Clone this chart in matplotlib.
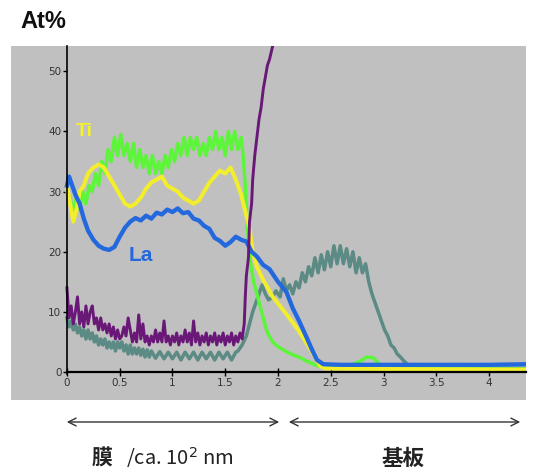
import matplotlib
matplotlib.use("Agg")
import matplotlib.pyplot as plt

# ---------------- data ----------------
green_x = [0.00, 0.03, 0.06, 0.09, 0.12, 0.15, 0.18, 0.21, 0.24, 0.27, 0.30, 0.33, 0.36, 0.39,
           0.42, 0.45, 0.48, 0.51, 0.54, 0.57, 0.60, 0.63, 0.66, 0.69, 0.72, 0.75, 0.78, 0.81,
           0.84, 0.87, 0.90, 0.93, 0.96, 0.99, 1.02, 1.05, 1.08, 1.11, 1.14, 1.17, 1.20, 1.23,
           1.26, 1.29, 1.32, 1.35, 1.38, 1.41, 1.44, 1.47, 1.50, 1.53, 1.56, 1.59, 1.62, 1.65,
           1.67, 1.69, 1.71, 1.74, 1.77, 1.80, 1.83, 1.86, 1.90, 1.95, 2.00, 2.05, 2.10, 2.15,
           2.20, 2.25, 2.30, 2.35, 2.40, 2.50, 2.60, 2.70, 2.78, 2.84, 2.90, 2.95, 3.00, 3.20, 4.35]
green_y = [30, 29, 26, 29, 27, 30, 28, 31, 30, 33, 31, 35, 33, 37,
           35, 39, 36, 39.5, 36, 38, 35, 38, 34, 37, 34, 36, 33, 36,
           33, 35, 33, 36, 34, 37, 35, 38, 36, 39, 36, 39, 37, 39,
           36, 38, 36, 39, 37, 40, 37, 39, 36, 40, 37, 40, 37, 39,
           36, 31, 24, 18, 15, 13, 11, 9, 6.5, 5, 4.2, 3.7, 3.2, 2.8,
           2.5, 2.0, 1.6, 1.2, 0.9, 0.8, 0.9, 1.2, 1.8, 2.5, 2.4, 1.5, 0.8, 0.6, 0.5]

yellow_x = [0.00, 0.03, 0.06, 0.09, 0.12, 0.16, 0.20, 0.25, 0.30, 0.35, 0.40, 0.45, 0.50, 0.55,
            0.60, 0.65, 0.70, 0.75, 0.80, 0.85, 0.90, 0.95, 1.00, 1.05, 1.10, 1.15, 1.20, 1.25,
            1.30, 1.35, 1.40, 1.45, 1.50, 1.55, 1.60, 1.65, 1.70, 1.73, 1.76, 1.80, 1.86, 1.95,
            2.05, 2.15, 2.21, 2.30, 2.36, 2.40, 2.45, 3.00, 4.35]
yellow_y = [31, 28, 25, 27, 30, 31, 33, 34, 34.5, 34, 32.5, 31, 29.5, 28,
            27.5, 28, 29, 30.5, 31.5, 32, 32.5, 31, 30.5, 30, 29, 28.5, 28, 28.5,
            30, 31.5, 32.5, 33.5, 33, 34, 32, 29.5, 26, 24, 20, 17.5, 15.3, 12.5,
            10.3, 8, 6.5, 4, 2.3, 1.0, 0.6, 0.5, 0.4]

blue_x = [0.00, 0.02, 0.05, 0.08, 0.12, 0.16, 0.20, 0.25, 0.30, 0.35, 0.40, 0.45, 0.50, 0.55,
          0.60, 0.65, 0.70, 0.75, 0.80, 0.85, 0.90, 0.95, 1.00, 1.05, 1.10, 1.15, 1.20, 1.25,
          1.30, 1.35, 1.40, 1.45, 1.50, 1.55, 1.60, 1.65, 1.70, 1.75, 1.80, 1.86, 1.92, 2.00,
          2.08, 2.14, 2.20, 2.27, 2.32, 2.37, 2.43, 2.60, 3.00, 3.50, 4.00, 4.35]
blue_y = [31, 32.5, 31, 29.5, 28, 25.5, 23.5, 22, 21, 20.5, 20.3, 20.8, 22.5, 24,
          25, 25.6, 25.2, 26, 25.5, 26.5, 26.2, 27, 26.6, 27.2, 26.4, 26.6, 25.5, 25.2,
          24.3, 23.8, 22.3, 21.8, 21, 21.6, 22.5, 22, 21.7, 20, 19.2, 17.8, 17.1, 15,
          13.3, 10.6, 8.5, 5.8, 3.8, 2.0, 1.3, 1.2, 1.2, 1.2, 1.2, 1.3]

purple_x = [0.00, 0.02, 0.04, 0.06, 0.08, 0.10, 0.12, 0.14, 0.16, 0.18, 0.20, 0.22, 0.24, 0.26,
            0.28, 0.30, 0.32, 0.34, 0.36, 0.38, 0.40, 0.42, 0.44, 0.46, 0.48, 0.50, 0.52, 0.54,
            0.56, 0.58, 0.60, 0.62, 0.64, 0.66, 0.68, 0.70, 0.72, 0.74, 0.76, 0.78, 0.80, 0.82,
            0.84, 0.86, 0.88, 0.90, 0.92, 0.94, 0.96, 0.98, 1.00, 1.02, 1.04, 1.06, 1.08, 1.10,
            1.12, 1.14, 1.16, 1.18, 1.20, 1.22, 1.24, 1.26, 1.28, 1.30, 1.32, 1.34, 1.36, 1.38,
            1.40, 1.42, 1.44, 1.46, 1.48, 1.50, 1.52, 1.54, 1.56, 1.58, 1.60, 1.62, 1.64, 1.66,
            1.68, 1.69, 1.70, 1.72, 1.73, 1.75, 1.76, 1.78, 1.80, 1.82, 1.84, 1.86, 1.88, 1.90,
            1.92, 1.94, 1.96]
purple_y = [14, 9, 11, 8, 10, 12.5, 8, 10, 7.5, 11, 8, 10, 11, 8,
            9, 7, 9, 7, 8, 6.5, 8, 6, 7.5, 5.5, 7, 5.5, 6, 7.5,
            6, 9, 7, 5, 6.5, 5, 9.5, 5.5, 8, 5, 6, 4.5, 6, 5,
            7, 5, 6.5, 5, 8.5, 5, 6, 4.5, 6, 5, 6.5, 4.5, 6, 5,
            7, 5, 6.5, 4.5, 8.5, 5, 6.5, 4.5, 6, 5, 6.5, 4.5, 6, 5,
            6.5, 4.5, 6, 5, 6.5, 4.5, 6, 5, 6.5, 4.5, 6, 5, 6.5, 5.5,
            8, 12.5, 16, 19, 25, 28, 32, 36, 39, 42, 44, 47, 49, 51,
            52, 53.5, 55]

teal_x = [0.00, 0.02, 0.04, 0.06, 0.08, 0.10, 0.12, 0.14, 0.16, 0.18, 0.20, 0.22, 0.24, 0.26,
          0.28, 0.30, 0.32, 0.34, 0.36, 0.38, 0.40, 0.42, 0.44, 0.46, 0.48, 0.50, 0.52, 0.54,
          0.56, 0.58, 0.60, 0.62, 0.64, 0.66, 0.68, 0.70, 0.72, 0.74, 0.76, 0.78, 0.80, 0.84,
          0.88, 0.92, 0.96, 1.00, 1.04, 1.08, 1.12, 1.16, 1.20, 1.24, 1.28, 1.32, 1.36, 1.40,
          1.44, 1.48, 1.52, 1.56, 1.60, 1.62, 1.66, 1.70, 1.73, 1.76, 1.80, 1.83, 1.85, 1.88,
          1.91, 1.95, 1.98, 2.02, 2.05, 2.08, 2.11, 2.14, 2.17, 2.20, 2.23, 2.26, 2.29, 2.32,
          2.35, 2.38, 2.41, 2.44, 2.47, 2.50, 2.53, 2.56, 2.59, 2.62, 2.65, 2.68, 2.71, 2.74,
          2.77, 2.80, 2.83, 2.86, 2.89, 2.92, 2.95, 2.98, 3.01, 3.04, 3.07, 3.10, 3.13, 3.16,
          3.20, 3.25, 3.30, 3.60, 4.00, 4.35]
teal_y = [9, 7.5, 8.5, 7, 8, 6.5, 7.5, 6, 7, 5.5, 7, 5.5, 6.5, 5,
          6, 4.5, 5.5, 4.5, 5.5, 4, 5, 4, 5, 3.5, 5, 4, 5, 3.5,
          4.5, 3, 4.5, 3, 4, 3, 4, 2.8, 3.8, 2.5, 3.7, 2.5, 3.5, 2.3,
          3.4, 2.2, 3.3, 2.2, 3.3, 2.0, 3.3, 2.2, 3.3, 2.0, 3.3, 2.2, 3.3, 2.0,
          3.3, 2.2, 3.3, 2.0, 3.3, 3.5, 4.5, 6, 8, 10, 12, 13.5, 14.5, 13,
          12, 12.5, 13.5, 12.5, 15.5, 13.5, 14.5, 13, 15, 14, 16.5, 15, 17.5, 16,
          19, 16.5, 19.5, 17, 20, 17.5, 21, 18, 21, 18, 20.5, 17.5, 20, 16.5,
          19, 16.5, 18, 15, 13, 11.5, 10, 8.5, 7, 6, 4.5, 4, 3, 2.5,
          1.7, 1.0, 0.7, 0.6, 0.6, 0.6]

x_ticks = [0, 0.5, 1, 1.5, 2, 2.5, 3, 3.5, 4]
x_tick_labels = ["0", "0.5", "1", "1.5", "2", "2.5", "3", "3.5", "4"]
y_ticks = [0, 10, 20, 30, 40, 50]
y_tick_labels = ["0", "10", "20", "30", "40", "50"]

# ---------------- figure ----------------
fig = plt.figure(figsize=(5.37, 4.71), dpi=100)
ax = fig.add_axes([0.0205, 0.1507, 0.959, 0.7516])
ax.set_facecolor("#c0c0c0")
ax.set_xlim(-0.53, 4.35)
ax.set_ylim(-4.65, 54.2)

lw = 2.5
ax.plot(teal_x, teal_y, color="#5b8b84", lw=lw, zorder=2)
ax.plot(green_x, green_y, color="#5cf53a", lw=lw, zorder=3)
ax.plot(yellow_x, yellow_y, color="#f2ee2c", lw=lw + 0.4, zorder=4)
ax.plot(blue_x, blue_y, color="#2468de", lw=lw + 0.6, zorder=5)
ax.plot(purple_x, purple_y, color="#6a1877", lw=lw - 0.4, zorder=6)

for s in ["top", "right"]:
    ax.spines[s].set_visible(False)
ax.spines["left"].set_position(("data", 0))
ax.spines["bottom"].set_position(("data", 0))
ax.spines["left"].set_bounds(-0.3, 54.2)
ax.spines["bottom"].set_bounds(0, 4.35)
ax.spines["left"].set_linewidth(1.2)
ax.spines["bottom"].set_linewidth(1.6)
ax.spines["left"].set_zorder(7)
ax.spines["bottom"].set_zorder(7)

ax.set_xticks(x_ticks)
ax.set_xticklabels(x_tick_labels)
ax.set_yticks(y_ticks)
ax.set_yticklabels(y_tick_labels)
ax.tick_params(axis="x", direction="inout", length=6, width=1, labelsize=7.5,
               labelcolor="#333333", pad=1)
ax.tick_params(axis="y", direction="out", length=3, width=1, labelsize=7.5,
               labelcolor="#333333", pad=1)

ax.text(0.08, 40, "Ti", color="#f5f030", fontsize=14, fontweight="bold",
        family="Liberation Sans", va="center", ha="left", zorder=8)
ax.text(0.58, 19.3, "La", color="#2468de", fontsize=15, fontweight="bold",
        family="Liberation Sans", va="center", ha="left", zorder=8)

fig.text(20 / 537, 1 - 22 / 471, "At%", fontsize=17, fontweight="bold",
         family="Liberation Sans", va="center", ha="left", color="#111111")

# arrows below the plot
arrow_style = dict(arrowstyle="<->", color="#333333", lw=1.0, mutation_scale=14)
fig.add_artist(matplotlib.patches.FancyArrowPatch(
    (64 / 537, 1 - 422 / 471), (282 / 537, 1 - 422 / 471),
    transform=fig.transFigure, **arrow_style))
fig.add_artist(matplotlib.patches.FancyArrowPatch(
    (286 / 537, 1 - 422 / 471), (523 / 537, 1 - 422 / 471),
    transform=fig.transFigure, **arrow_style))

fam = ["Noto Sans CJK JP", "DejaVu Sans"]
fig.text(92 / 537, 1 - 458 / 471, "膜", fontsize=15, fontweight="bold",
         family=fam, ha="left", va="center", color="#222222")
fig.text(126 / 537, 1 - 458 / 471, "/ca. 10$^2$ nm", fontsize=14.5,
         family=fam, ha="left", va="center", color="#222222")
fig.text(403 / 537, 1 - 458 / 471, "基板", fontsize=15.5, family=fam,
         ha="center", va="center", color="#222222", fontweight="bold")

fig.savefig("out.png", dpi=100, facecolor="white")
